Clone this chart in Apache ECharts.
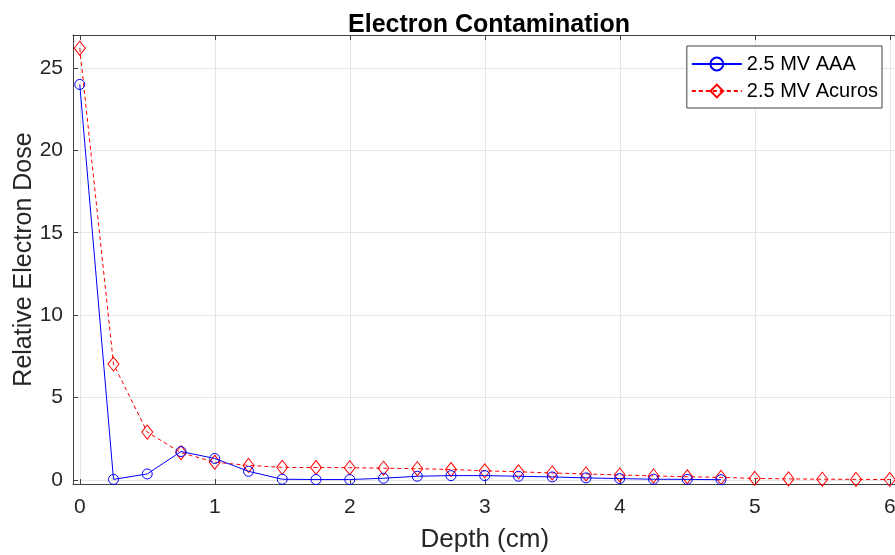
<!DOCTYPE html>
<html><head><meta charset="utf-8">
<script src="https://cdn.jsdelivr.net/npm/echarts@6/dist/echarts.min.js"></script>
<style>html,body{margin:0;padding:0;background:#fff}#c{width:895px;height:555px}</style>
</head><body><div id="c"></div>
<script>
const depthAAA = [0,0.25,0.5,0.75,1,1.25,1.5,1.75,2,2.25,2.5,2.75,3,3.25,3.5,3.75,4,4.25,4.5,4.75];
const doseAAA = [24.0,0.03,0.36,1.72,1.3,0.52,0.04,0.02,0.02,0.1,0.22,0.26,0.26,0.22,0.18,0.12,0.08,0.04,0.03,0.01];
const depthAcuros = [0,0.25,0.5,0.75,1,1.25,1.5,1.75,2,2.25,2.5,2.75,3,3.25,3.5,3.75,4,4.25,4.5,4.75,5,5.25,5.5,5.75,6];
const doseAcuros = [26.2,7.03,2.9,1.65,1.07,0.88,0.76,0.75,0.74,0.71,0.68,0.63,0.55,0.49,0.42,0.36,0.3,0.24,0.19,0.15,0.09,0.06,0.04,0.03,0.02];
const xTicks = [0,1,2,3,4,5,6];
const yTicks = [0,5,10,15,20,25];
const seriesNames = ['2.5 MV AAA','2.5 MV Acuros'];

const font = 'Liberation Sans, Arial, Helvetica, sans-serif';
const axisCol = '#404040';
const zip = (a,b)=>a.map((v,i)=>[v,b[i]]);

const chart = echarts.init(document.getElementById('c'));
chart.setOption({
  animation:false,
  backgroundColor:'#fff',
  title:{text:'Electron Contamination',left:484,top:8,textAlign:'center',
    textStyle:{fontFamily:font,fontWeight:'bold',fontSize:25,color:'#000'}},
  grid:{left:73,top:35,width:823.5,height:449,outerBoundsMode:'none',containLabel:false},
  legend:{right:13,top:46,orient:'vertical',itemWidth:50,itemHeight:16,itemGap:7,
    padding:[8,4,7,4],borderColor:axisCol,borderWidth:1,backgroundColor:'#fff',
    textStyle:{fontFamily:font,fontSize:20,color:'#000'},data:seriesNames},
  xAxis:[{type:'value',min:-0.05,max:6.05,
    axisLine:{onZero:false,lineStyle:{color:axisCol}},
    axisTick:{inside:true,length:5,customValues:xTicks,lineStyle:{color:axisCol}},
    axisLabel:{customValues:xTicks,fontFamily:font,fontSize:21,color:'#262626',margin:13},
    splitLine:{show:true,lineStyle:{color:'#e5e5e5'}},
    name:'Depth (cm)',nameLocation:'middle',nameGap:43,nameMoveOverlap:false,
    nameTextStyle:{fontFamily:font,fontSize:26,color:'#262626'}},
   {type:'value',position:'top',min:-0.05,max:6.05,
    axisLine:{show:true,onZero:false,lineStyle:{color:axisCol}},
    axisTick:{show:true,inside:true,length:5,customValues:xTicks,lineStyle:{color:axisCol}},
    axisLabel:{show:false},splitLine:{show:false}}],
  yAxis:[{type:'value',min:-0.25,max:27,
    axisLine:{show:true,onZero:false,lineStyle:{color:axisCol}},
    axisTick:{show:true,inside:true,length:5,customValues:yTicks,lineStyle:{color:axisCol}},
    axisLabel:{customValues:yTicks,fontFamily:font,fontSize:21,color:'#262626',margin:10},
    splitLine:{show:true,lineStyle:{color:'#e5e5e5'}},
    name:'Relative Electron Dose',nameLocation:'middle',nameGap:36,nameMoveOverlap:false,
    nameTextStyle:{fontFamily:font,fontSize:25,color:'#262626'}}],
  series:[
    {name:seriesNames[0],type:'line',data:zip(depthAAA,doseAAA),
     symbol:'circle',symbolSize:10,showAllSymbol:true,z:3,
     lineStyle:{color:'#0000ff',width:1},
     itemStyle:{color:'rgba(255,255,255,0)',borderColor:'#0000ff',borderWidth:1}},
    {name:seriesNames[1],type:'line',data:zip(depthAcuros,doseAcuros),
     symbol:'diamond',symbolSize:[11,14],showAllSymbol:true,z:2,
     lineStyle:{color:'#ff0000',width:1,type:[4,3]},
     itemStyle:{color:'rgba(255,255,255,0)',borderColor:'#ff0000',borderWidth:1}}
  ]
});
</script></body></html>
